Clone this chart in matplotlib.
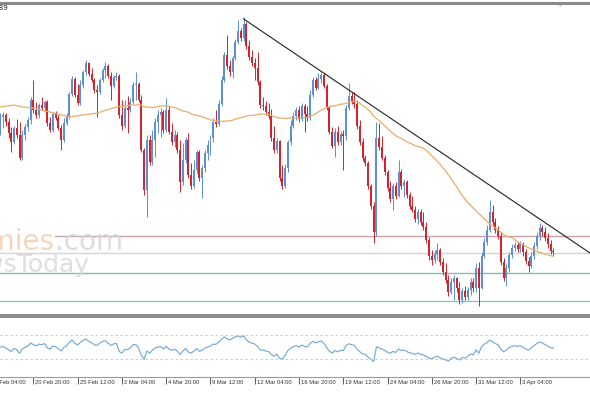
import matplotlib
matplotlib.use("Agg")
import matplotlib.pyplot as plt
import matplotlib.transforms as mtransforms
import numpy as np
import pandas as pd

# 4H candles (arbitrary price units)
opens = [
    188, 203, 205, 198, 187, 178, 192, 185, 162, 185,
    193, 200, 220, 210, 205, 215, 212, 218, 197, 190,
    206, 202, 192, 180, 197, 204, 226, 241, 225, 217,
    235, 248, 257, 246, 240, 230, 228, 240, 250, 254,
    244, 234, 243, 244, 205, 194, 212, 210, 218, 235,
    236, 220, 170, 130, 180, 158, 180, 198, 205, 208,
    190, 210, 188, 178, 185, 170, 138, 160, 180, 145,
    134, 150, 168, 142, 152, 167, 175, 182, 198, 196,
    216, 240, 265, 254, 248, 262, 278, 289, 282, 296,
    274, 263, 257, 252, 238, 215, 214, 208, 204, 182,
    170, 179, 142, 134, 152, 178, 194, 204, 210, 201,
    214, 206, 202, 225, 240, 232, 241, 245, 234, 212,
    188, 174, 188, 178, 186, 184, 212, 224, 219, 216,
    194, 178, 162, 157, 134, 114, 88, 182, 173, 162,
    148, 132, 121, 134, 124, 148, 134, 138, 125, 114,
    110, 101, 108, 98, 93, 80, 64, 60, 66, 70,
    58, 48, 40, 28, 38, 42, 32, 20, 29, 23,
    30, 38, 32, 52, 32, 64, 78, 90, 108, 98,
    90, 84, 58, 42, 52, 65, 72, 75, 71, 76,
    68, 59, 54, 64, 74, 84, 92, 88, 82, 76,
    69,
]
highs = [
    207, 208, 207, 202, 193, 194, 201, 198, 190, 196,
    203, 223, 240, 218, 217, 223, 220, 220, 203, 208,
    209, 205, 195, 202, 207, 228, 244, 243, 236, 240,
    250, 260, 258, 252, 242, 235, 242, 252, 258, 256,
    248, 245, 248, 246, 220, 220, 224, 222, 238, 248,
    238, 225, 172, 185, 185, 190, 202, 210, 212, 210,
    222, 214, 197, 190, 188, 180, 177, 183, 187, 157,
    160, 170, 170, 155, 170, 180, 185, 202, 210, 220,
    244, 268, 285, 260, 264, 281, 300, 292, 303, 298,
    280, 270, 262, 268, 240, 223, 219, 217, 211, 194,
    182, 180, 155, 156, 180, 200, 208, 213, 214, 217,
    216, 214, 230, 243, 243, 247, 248, 247, 236, 214,
    193, 192, 194, 189, 190, 215, 237, 228, 228, 220,
    200, 182, 165, 159, 136, 118, 198, 197, 184, 165,
    150, 139, 137, 138, 160, 151, 141, 140, 128, 124,
    114, 111, 111, 108, 98, 83, 70, 70, 77, 72,
    62, 57, 45, 42, 45, 43, 38, 32, 34, 33,
    42, 42, 57, 58, 68, 82, 95, 120, 115, 102,
    94, 88, 62, 56, 68, 76, 78, 78, 79, 78,
    71, 63, 68, 78, 88, 97, 95, 93, 87, 80,
    72,
]
lows = [
    185, 192, 194, 182, 168, 176, 182, 160, 160, 180,
    189, 196, 207, 202, 202, 210, 208, 194, 188, 188,
    200, 190, 170, 178, 195, 201, 224, 223, 215, 215,
    232, 245, 244, 238, 227, 203, 226, 238, 242, 242,
    220, 232, 240, 202, 190, 192, 187, 208, 216, 220,
    218, 168, 125, 103, 155, 155, 163, 187, 183, 187,
    188, 186, 175, 173, 167, 128, 135, 157, 142, 131,
    132, 147, 139, 122, 148, 160, 165, 178, 193, 194,
    214, 238, 251, 244, 242, 260, 276, 279, 279, 271,
    260, 254, 240, 235, 212, 210, 205, 201, 179, 167,
    167, 139, 131, 132, 148, 175, 192, 200, 198, 199,
    188, 199, 200, 223, 230, 231, 237, 232, 210, 186,
    172, 163, 175, 175, 150, 180, 210, 216, 212, 191,
    175, 159, 154, 131, 111, 77, 84, 170, 160, 145,
    129, 118, 110, 121, 123, 131, 123, 122, 111, 108,
    98, 96, 95, 90, 77, 60, 55, 57, 60, 55,
    45, 37, 24, 26, 20, 28, 16, 17, 20, 20,
    25, 28, 28, 14, 31, 62, 75, 88, 95, 87,
    81, 55, 39, 34, 48, 62, 69, 68, 68, 64,
    56, 48, 52, 61, 71, 80, 84, 79, 72, 66,
    65,
]
closes = [
    203, 205, 198, 187, 178, 192, 185, 162, 185, 193,
    200, 220, 210, 205, 215, 212, 218, 197, 190, 206,
    202, 192, 180, 197, 204, 226, 241, 225, 217, 235,
    248, 257, 246, 240, 230, 228, 240, 250, 254, 244,
    234, 243, 244, 205, 194, 212, 210, 218, 235, 236,
    220, 170, 130, 180, 158, 180, 198, 205, 208, 190,
    210, 188, 178, 185, 170, 138, 160, 180, 145, 134,
    150, 168, 142, 152, 167, 175, 182, 198, 196, 216,
    240, 265, 254, 248, 262, 278, 289, 282, 296, 274,
    263, 257, 252, 238, 215, 214, 208, 204, 182, 170,
    179, 142, 134, 152, 178, 194, 204, 210, 201, 214,
    206, 202, 225, 240, 232, 241, 245, 234, 212, 188,
    174, 188, 178, 186, 184, 212, 224, 219, 216, 194,
    178, 162, 157, 134, 114, 88, 182, 173, 162, 148,
    132, 121, 134, 124, 148, 134, 138, 125, 114, 110,
    101, 108, 98, 93, 80, 64, 60, 66, 70, 58,
    48, 40, 28, 38, 42, 32, 20, 29, 23, 30,
    38, 32, 52, 32, 64, 78, 90, 108, 98, 90,
    84, 58, 42, 52, 65, 72, 75, 71, 76, 68,
    59, 54, 64, 74, 84, 92, 88, 82, 76, 69,
    68,
]

# moving average: values before the first full 50-bar window
ma_period = 50
ma_early_bars = [0, 5, 8, 12, 18, 25, 35, 42, 48]
ma_early_vals = [213, 215, 213, 212, 208, 203, 207, 213, 215]

# horizontal support / resistance lines
levels = [84, 67, 47, 19]
level_colors = ['#c9a0a6', '#d4d4d4', '#86bcab', '#8fc6b4']
level_start = [0.093, 0, 0, 0]

# descending trend line (bar, price)
trend_bars = [88, 213.2]
trend_prices = [301, 67]

rsi_period = 14
rsi_seed = 7.0   # average move assumed before the first visible bar
rsi_levels = [70, 30]

tick_labels = ['20 Feb 20:00', '25 Feb 12:00', '2 Mar 04:00', '4 Mar 20:00',
               '9 Mar 12:00', '12 Mar 04:00', '16 Mar 20:00', '19 Mar 12:00',
               '24 Mar 04:00', '26 Mar 20:00', '31 Mar 12:00', '3 Apr 04:00']
first_label = '18 Feb 04:00'
first_tick_bar = 12
tick_step = 16

up_color = '#5b8fd8'
down_color = '#d4232b'

# ---------------------------------------------------------------
W, H = 590, 393
fig = plt.figure(figsize=(W / 100, H / 100), dpi=100)
fig.patch.set_facecolor('white')

ax = fig.add_axes([0, 1 - 315 / H, 1, 312 / H])
sub = fig.add_axes([0, 1 - 377 / H, 1, 60 / H])

o = np.array(opens, float)
h = np.array(highs, float)
l = np.array(lows, float)
c = np.array(closes, float)
bars = np.arange(len(c))
up = c >= o
cols = np.where(up, up_color, down_color)

# candles
ax.vlines(bars, l, h, colors=cols, lw=0.7, zorder=3)
body = np.maximum(np.abs(c - o), 0.8)
ax.bar(bars, body, bottom=np.minimum(o, c), width=0.72, color=cols,
       linewidth=0, zorder=4)

# moving average
ma = pd.Series(c).rolling(ma_period).mean()
ma_x = list(ma_early_bars) + list(bars[ma_period - 1:])
ma_y = list(ma_early_vals) + list(ma.values[ma_period - 1:])
ax.plot(ma_x, ma_y, color='#e8ad6a', lw=0.9, zorder=5)

# levels
for lev, col, xs in zip(levels, level_colors, level_start):
    ax.axhline(lev, xmin=xs, xmax=1, color=col, lw=1.0, zorder=2)

# trend line
ax.plot(trend_bars, trend_prices, color='#222222', lw=0.8, zorder=6)

xmin, xmax = -0.1, 213.2
ax.set_xlim(xmin, xmax)
ax.set_ylim(5, 317)
ax.set_xticks([])
ax.set_yticks([])
for side in ['left', 'right']:
    ax.spines[side].set_visible(False)
ax.spines['top'].set_color('#8a8a8a')
ax.spines['top'].set_linewidth(2.2)
ax.spines['bottom'].set_color('#8a8a8a')
ax.spines['bottom'].set_linewidth(1.4)

# watermark
fig.text(55 / W, 1 - 250 / H, 'economies', ha='right', va='baseline',
         fontsize=20, color='#f7cdae', alpha=0.85, family='DejaVu Sans')
fig.text(55 / W, 1 - 250 / H, '.com', ha='left', va='baseline',
         fontsize=20, color='#d6d6d6', alpha=0.85, family='DejaVu Sans')
fig.text(90 / W, 1 - 272 / H, 'NewsToday', ha='right', va='baseline',
         fontsize=18, color='#d9d9d9', alpha=0.85, family='DejaVu Sans')

fig.text(8 / W, 1 - 8 / H, '1.0889', ha='right', va='center', fontsize=5,
         color='#222222')
fig.text(560 / W, 1 - 5 / H, '\u25bc', ha='center', va='center', fontsize=4,
         color='#8a8a8a')

# RSI sub-window (Wilder smoothing)
diff = np.diff(c, prepend=c[0])
avg_g, avg_l = rsi_seed, rsi_seed
rsi = []
for d in diff:
    avg_g = (avg_g * (rsi_period - 1) + max(d, 0)) / rsi_period
    avg_l = (avg_l * (rsi_period - 1) + max(-d, 0)) / rsi_period
    rsi.append(100 - 100 / (1 + avg_g / avg_l))
sub.plot(bars, rsi, color='#6ea6d6', lw=0.8)
for lev in rsi_levels:
    sub.axhline(lev, color='#c4c4c4', lw=0.6, ls=(0, (3, 3)))
sub.set_xlim(xmin, xmax)
sub.set_ylim(0, 100)
sub.set_yticks([])
for side in ['left', 'right']:
    sub.spines[side].set_visible(False)
sub.spines['top'].set_color('#8a8a8a')
sub.spines['top'].set_linewidth(1.4)
sub.spines['bottom'].set_color('#9a9a9a')
sub.spines['bottom'].set_linewidth(0.8)

tick_pos = [first_tick_bar + tick_step * k for k in range(len(tick_labels))]
sub.set_xticks(tick_pos)
sub.tick_params(axis='x', length=5, width=0.6, color='#444444',
                direction='out', labelbottom=False)
lab_tr = mtransforms.offset_copy(sub.get_xaxis_transform(), fig=fig,
                                 x=2, y=-3, units='dots')
for pos, lab in zip([first_tick_bar - tick_step] + tick_pos,
                    [first_label] + tick_labels):
    sub.text(pos, 0, lab, transform=lab_tr, ha='left', va='top',
             fontsize=4.2, color='#333333', family='Liberation Sans',
             clip_on=False)

fig.savefig('out.png', dpi=100)
